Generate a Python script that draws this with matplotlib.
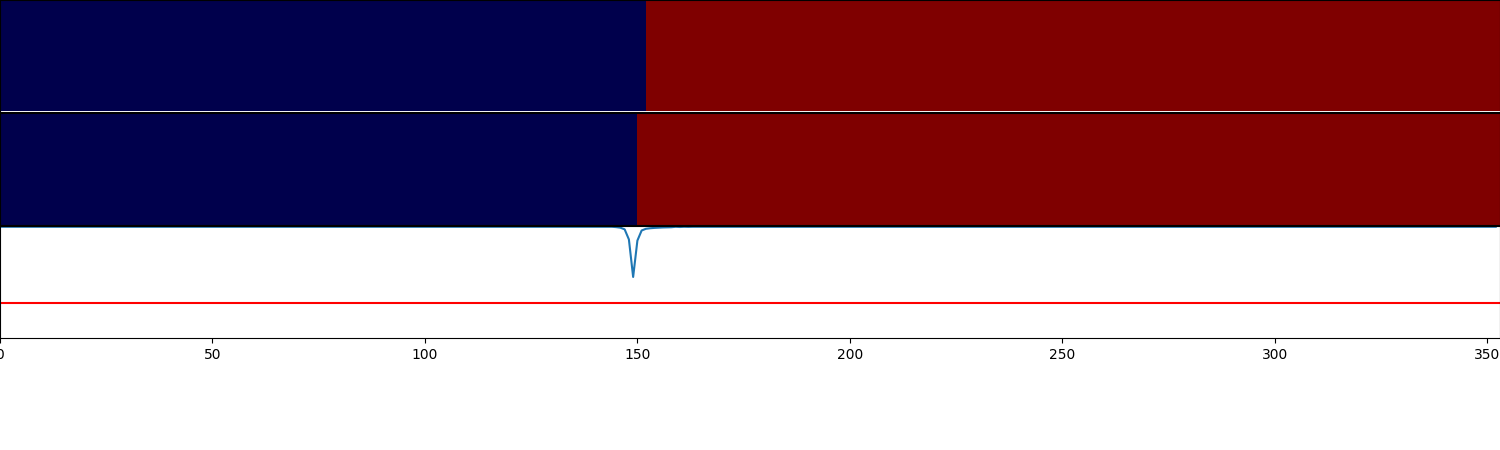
import matplotlib
matplotlib.use('Agg')
import matplotlib.pyplot as plt
import numpy as np

n = 353
split_top = 152
split_mid = 150
row_top = np.where(np.arange(n) < split_top, -1, 1)
row_mid = np.where(np.arange(n) < split_mid, -1, 1)

# similarity curve: flat near 1 except a dip around 149
dip_x = [144, 145, 146, 147, 148, 149, 150, 151, 152, 153, 154, 155, 156, 157, 158, 160, 162]
dip_y = [0.993, 0.99, 0.985, 0.97, 0.88, 0.545, 0.87, 0.96, 0.975, 0.98, 0.983, 0.985, 0.987, 0.988, 0.989, 0.991, 0.992]
curve = np.full(n, 0.993)
curve[dip_x] = dip_y
threshold = 0.3125

fig = plt.figure(figsize=(15, 4.5), dpi=100)
ax1 = fig.add_axes([0, 1 - 111.5 / 450, 1, 111.5 / 450])
ax2 = fig.add_axes([0, 1 - 225 / 450, 1, 112 / 450])
ax3 = fig.add_axes([0, 1 - 338 / 450, 1, 112 / 450])

for ax, row in [(ax1, row_top), (ax2, row_mid)]:
    ax.imshow(row[None, :], cmap='seismic', vmin=-1, vmax=1, aspect='auto',
              extent=[0, n, 0, 1], interpolation='nearest')
    ax.set_xlim(0, n)
    ax.set_xticks([])
    ax.set_yticks([])

ax3.plot(np.arange(n), curve)
ax3.axhline(threshold, color='red')
ax3.set_xlim(0, n)
ax3.set_ylim(0, 1)
ax3.set_yticks([])

fig.savefig('out.png', dpi=100)
